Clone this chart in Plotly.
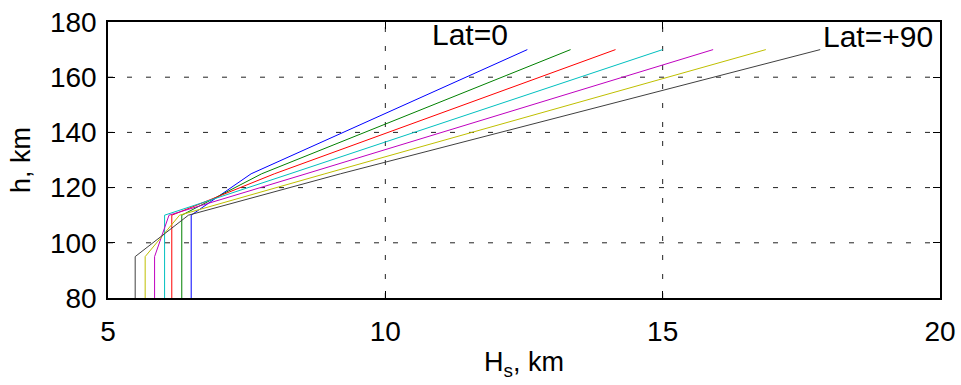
import plotly.graph_objects as go

# Heights (km) at which the profiles are defined
heights = [80, 95, 110, 125, 170]

# Scale height H_s (km) for each latitude
lat_labels = ["0", "15", "30", "45", "60", "75", "90"]
hs_lat0 = [6.50, 6.50, 6.50, 7.58, 12.56]
hs_lat15 = [6.33, 6.33, 6.33, 7.77, 13.34]
hs_lat30 = [6.15, 6.15, 6.15, 8.00, 14.15]
hs_lat45 = [6.02, 6.02, 6.02, 8.28, 15.00]
hs_lat60 = [5.84, 5.84, 6.10, 8.57, 15.91]
hs_lat75 = [5.67, 5.67, 6.29, 8.91, 16.86]
hs_lat90 = [5.49, 5.49, 6.45, 9.19, 17.84]

series = [hs_lat0, hs_lat15, hs_lat30, hs_lat45, hs_lat60, hs_lat75, hs_lat90]
colors = ["#0000FF", "#008000", "#FF0000", "#00BFBF", "#BF00BF", "#BFBF00", "#404040"]

x_ticks = [5, 10, 15, 20]
y_ticks = [80, 100, 120, 140, 160, 180]

fig = go.Figure()
for lab, xs, c in zip(lat_labels, series, colors):
    fig.add_trace(go.Scatter(x=xs, y=heights, mode="lines", name="Lat=" + lab,
                             line=dict(color=c, width=1)))

font_family = "Liberation Sans, Arial, sans-serif"

# dotted grid lines drawn as shapes at interior ticks
for xv in x_ticks[1:-1]:
    fig.add_shape(type="line", x0=xv, x1=xv, y0=y_ticks[0], y1=y_ticks[-1],
                  xref="x", yref="y", line=dict(color="#222222", width=1, dash="5px,14px"),
                  layer="below")
for yv in y_ticks[1:-1]:
    fig.add_shape(type="line", x0=x_ticks[0], x1=x_ticks[-1], y0=yv, y1=yv,
                  xref="x", yref="y", line=dict(color="#222222", width=1, dash="5px,14px"),
                  layer="below")

fig.add_annotation(x=10.8, y=175.3, text="Lat=0", showarrow=False, xanchor="left",
                   yanchor="middle", font=dict(family=font_family, size=30, color="black"))
fig.add_annotation(x=17.85, y=174.8, text="Lat=+90", showarrow=False, xanchor="left",
                   yanchor="middle", font=dict(family=font_family, size=30, color="black"))

axis_common = dict(showgrid=False, zeroline=False, showline=True, linecolor="black",
                   linewidth=1.5, mirror="ticks", ticks="inside", ticklen=7,
                   tickcolor="black", tickwidth=1, automargin=False,
                   tickfont=dict(family=font_family, size=28, color="black"))

fig.update_xaxes(range=[5, 20], tickvals=x_ticks, ticktext=[str(v) for v in x_ticks],
                 ticklabelstandoff=8,
                 title=dict(text="H<sub>s</sub>, km", font=dict(family=font_family, size=27, color="black"),
                            standoff=6),
                 **axis_common)
fig.update_yaxes(range=[80, 180], tickvals=y_ticks, ticktext=[str(v) for v in y_ticks],
                 ticklabelstandoff=4,
                 title=dict(text="h, km", font=dict(family=font_family, size=27, color="black"),
                            standoff=11),
                 **axis_common)

fig.update_layout(width=961, height=385, showlegend=False,
                  plot_bgcolor="white", paper_bgcolor="white",
                  margin=dict(l=108, r=21, t=22, b=87))

fig.write_html("out.html")
